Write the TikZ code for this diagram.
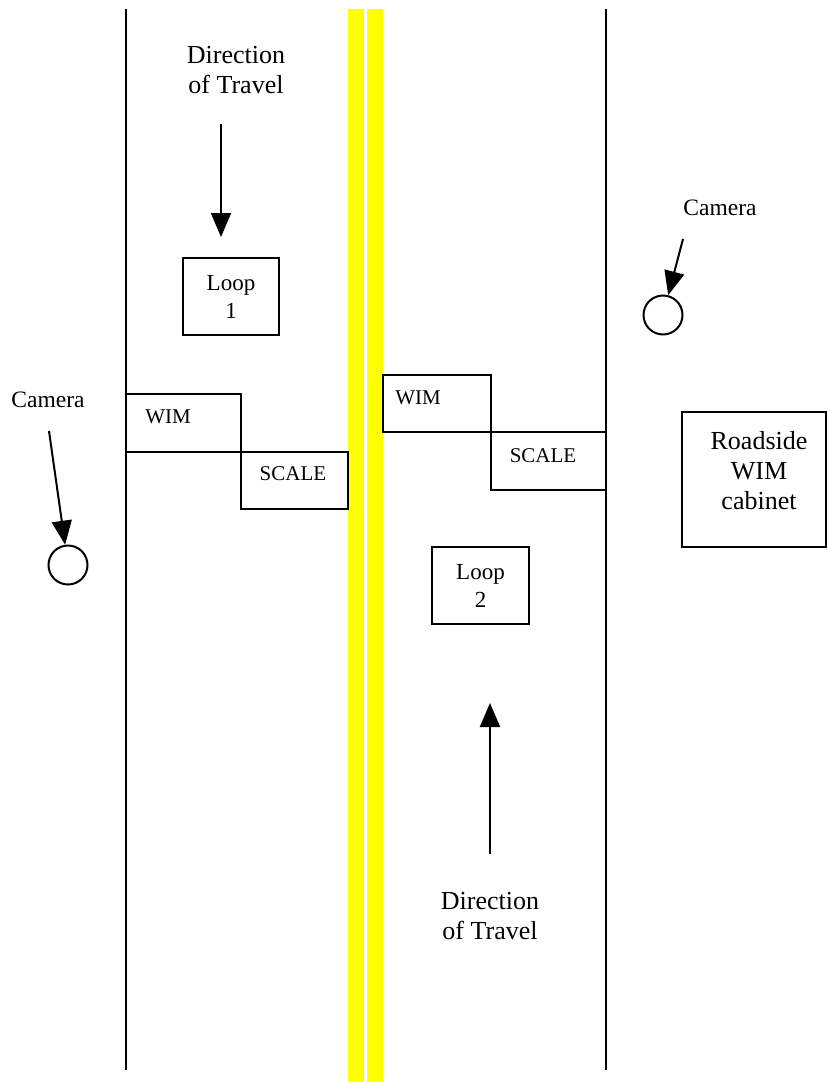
\documentclass[tikz,border=0pt]{standalone}
\usepackage{fontspec}
\setmainfont{Liberation Serif}
\usetikzlibrary{arrows.meta}
\begin{document}
\begin{tikzpicture}[x=1pt,y=-1pt,
  road/.style={line width=2pt,black},
  yel/.style={fill={rgb,255:red,255;green,255;blue,0},draw=none},
  box/.style={draw,line width=2pt,inner sep=0pt,rectangle},
  big/.style={font=\fontsize{26}{30}\selectfont,align=center,inner sep=0pt},
  loopt/.style={font=\fontsize{23}{28}\selectfont,align=center,inner sep=0pt},
  small/.style={font=\fontsize{21}{24}\selectfont,inner sep=0pt},
  cam/.style={font=\fontsize{23.5}{26}\selectfont,inner sep=0pt},
  camc/.style={draw,circle,line width=2pt,minimum size=39pt,inner sep=0pt},
  arr/.style={line width=2pt,-{Triangle[length=24pt,width=20pt]}}]
\useasboundingbox (0,0) rectangle (827,1082);
% road edges
\draw[road] (126,9) -- (126,1070);
\draw[road] (605.5,9) -- (605.5,1070);
% centre lines
\fill[yel] (348,9) rectangle (364,1082);
\fill[yel] (367,9) rectangle (383,1082);
% left lane sensors
\node[box,minimum width=115pt,minimum height=58pt] (wimL) at (183.5,422.5) {};
\node[box,minimum width=107pt,minimum height=57pt] (scaleL) at (294.5,480) {};
\node[small] at (168,417) {WIM};
\node[small] at (293,474) {SCALE};
% right lane sensors
\node[box,minimum width=108pt,minimum height=57pt] (wimR) at (437,403) {};
\node[box,minimum width=114.5pt,minimum height=58pt] (scaleR) at (548.25,460.5) {};
\node[small] at (418,398) {WIM};
\node[small] at (543,456) {SCALE};
% loops
\node[box,minimum width=96pt,minimum height=77pt,loopt] (loop1) at (231,296.5) {Loop\\1};
\node[box,minimum width=97pt,minimum height=77pt,loopt] (loop2) at (480.5,585.5) {Loop\\2};
% cabinet
\node[box,minimum width=144pt,minimum height=135pt,big] (cab) at (754,479.5) {\phantom{X}};
\node[big] at (759,471) {Roadside\\WIM\\cabinet};
% direction of travel
\node[big] (dir1) at (236,70) {Direction\\of Travel};
\node[big] (dir2) at (490,916) {Direction\\of Travel};
\coordinate (a1s) at (221,124);
\coordinate (a2s) at (490,854);
\draw[arr,shorten >=20pt] (a1s) -- (a1s |- loop1.north);
\draw[arr,shorten >=78pt] (a2s) -- (a2s |- loop2.south);
% cameras
\node[cam] (camL) at (48,400) {Camera};
\node[cam] (camR) at (720,208) {Camera};
\node[camc] (cL) at (68,565) {};
\node[camc] (cR) at (663,315) {};
\coordinate (cLs) at (49,431);
\coordinate (cRs) at (683,239);
\draw[arr] (cLs) -- (cL);
\draw[arr] (cRs) -- (cR);
\end{tikzpicture}
\end{document}
